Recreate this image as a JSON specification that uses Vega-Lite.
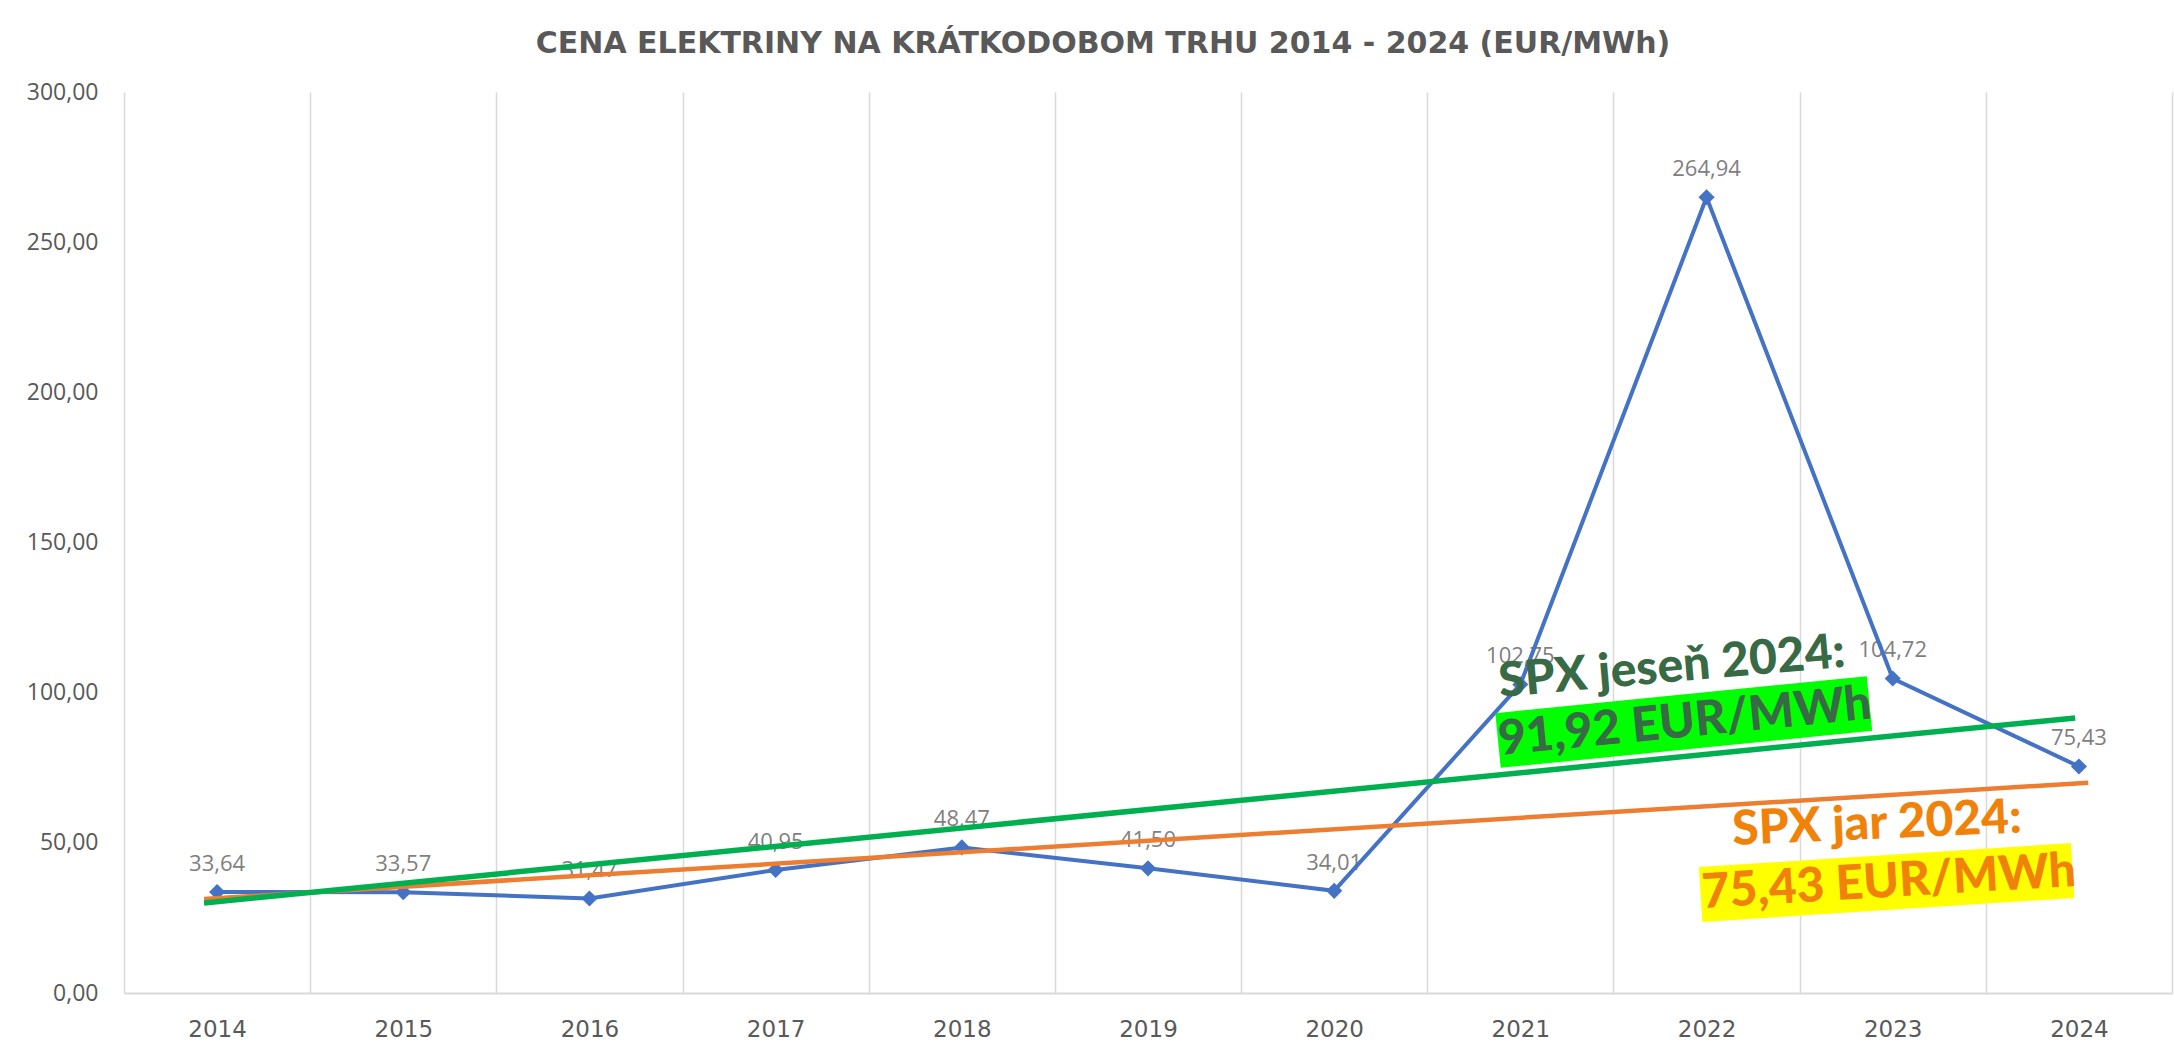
{
  "$schema": "https://vega.github.io/schema/vega-lite/v6.json",
  "width": 2048,
  "height": 901,
  "autosize": "none",
  "padding": {"left": 124, "top": 92, "right": 2, "bottom": 60},
  "background": "white",
  "config": {
    "view": {"stroke": null},
    "locale": {"number": {"decimal": ",", "thousands": " ", "grouping": [3], "currency": ["", " €"]}}
  },
  "title": {
    "text": "CENA ELEKTRINY NA KRÁTKODOBOM TRHU 2014 - 2024 (EUR/MWh)",
    "font": "DejaVu Sans",
    "fontSize": 30,
    "fontWeight": "bold",
    "color": "#595959",
    "anchor": "middle",
    "dx": -45,
    "offset": 22
  },
  "datasets": {
    "prices": [
      {"year": "2014", "price": 33.64},
      {"year": "2015", "price": 33.57},
      {"year": "2016", "price": 31.47},
      {"year": "2017", "price": 40.95},
      {"year": "2018", "price": 48.47},
      {"year": "2019", "price": 41.50},
      {"year": "2020", "price": 34.01},
      {"year": "2021", "price": 102.75},
      {"year": "2022", "price": 264.94},
      {"year": "2023", "price": 104.72},
      {"year": "2024", "price": 75.43}
    ],
    "trends": [
      {"series": "jeseň", "x": 2013.93, "y": 30.0},
      {"series": "jeseň", "x": 2023.98, "y": 91.6},
      {"series": "jar", "x": 2013.93, "y": 31.3},
      {"series": "jar", "x": 2024.05, "y": 70.0}
    ],
    "boxes": [
      {"series": "jeseň", "x": 2020.88, "y": 84.07},
      {"series": "jeseň", "x": 2022.875, "y": 96.39},
      {"series": "jar", "x": 2021.968, "y": 32.8},
      {"series": "jar", "x": 2023.966, "y": 40.79}
    ],
    "notes": [
      {"key": "jesen_head", "x": 2020.89, "y": 98.56, "label": "SPX jeseň 2024:"},
      {"key": "jesen_val", "x": 2020.89, "y": 79.25, "label": "91,92 EUR/MWh"},
      {"key": "jar_head", "x": 2022.142, "y": 49.28, "label": "SPX jar 2024:"},
      {"key": "jar_val", "x": 2021.98, "y": 28.3, "label": "75,43 EUR/MWh"}
    ]
  },
  "layer": [
    {
      "data": {"name": "prices"},
      "encoding": {
        "x": {
          "field": "year",
          "type": "ordinal",
          "bandPosition": 0.5,
          "scale": {"type": "band", "paddingInner": 0, "paddingOuter": 0},
          "axis": {
            "title": null,
            "labelAngle": 0,
            "tickBand": "extent",
            "grid": true,
            "gridColor": "#d9d9d9",
            "gridWidth": 1.5,
            "ticks": false,
            "domain": true,
            "domainColor": "#d9d9d9",
            "domainWidth": 2,
            "labelFont": "DejaVu Sans",
            "labelFontSize": 23,
            "labelColor": "#595959",
            "labelPadding": 25
          }
        },
        "y": {
          "field": "price",
          "type": "quantitative",
          "scale": {"domain": [0, 300], "nice": false},
          "axis": {
            "title": null,
            "values": [0, 50, 100, 150, 200, 250, 300],
            "format": ".2f",
            "grid": false,
            "domain": false,
            "ticks": false,
            "labelFont": "Open Sans",
            "labelFontSize": 23,
            "labelColor": "#595959",
            "labelPadding": 26
          }
        }
      },
      "layer": [
        {
          "mark": {"type": "text", "font": "Open Sans", "fontSize": 22, "color": "#7f7f7f", "baseline": "middle", "dy": -28},
          "encoding": {"text": {"field": "price", "type": "quantitative", "format": ".2f"}}
        },
        {"mark": {"type": "line", "color": "#4472c4", "strokeWidth": 4}},
        {"mark": {"type": "point", "shape": "diamond", "filled": true, "size": 260, "color": "#4472c4", "opacity": 1}}
      ]
    },
    {
      "encoding": {
        "x": {"field": "x", "type": "quantitative", "scale": {"domain": [2013.5, 2024.5], "nice": false, "zero": false}, "axis": null},
        "y": {"field": "y", "type": "quantitative", "scale": {"domain": [0, 300], "nice": false}, "axis": null}
      },
      "layer": [
        {"data": {"name": "trends"}, "transform": [{"filter": "datum.series === 'jar'"}], "mark": {"type": "line", "color": "#ed7d31", "strokeWidth": 4.5}},
        {"data": {"name": "trends"}, "transform": [{"filter": "datum.series === 'jeseň'"}], "mark": {"type": "line", "color": "#00b050", "strokeWidth": 5.5}},
        {"data": {"name": "boxes"}, "transform": [{"filter": "datum.series === 'jeseň'"}], "mark": {"type": "line", "color": "#00ff00", "strokeWidth": 55, "strokeCap": "butt"}},
        {"data": {"name": "boxes"}, "transform": [{"filter": "datum.series === 'jar'"}], "mark": {"type": "line", "color": "#ffff00", "strokeWidth": 55, "strokeCap": "butt"}},
        {"data": {"name": "notes"}, "transform": [{"filter": "datum.key === 'jesen_head'"}], "mark": {"type": "text", "font": "Lato", "fontWeight": 900, "fontSize": 48, "color": "#386a46", "align": "left", "baseline": "alphabetic", "angle": -5}, "encoding": {"text": {"field": "label"}}},
        {"data": {"name": "notes"}, "transform": [{"filter": "datum.key === 'jesen_val'"}], "mark": {"type": "text", "font": "Lato", "fontWeight": 900, "fontSize": 48, "color": "#386a46", "align": "left", "baseline": "alphabetic", "angle": -5.6}, "encoding": {"text": {"field": "label"}}},
        {"data": {"name": "notes"}, "transform": [{"filter": "datum.key === 'jar_head'"}], "mark": {"type": "text", "font": "Lato", "fontWeight": 900, "fontSize": 48, "color": "#f0820a", "align": "left", "baseline": "alphabetic", "angle": -2.5}, "encoding": {"text": {"field": "label"}}},
        {"data": {"name": "notes"}, "transform": [{"filter": "datum.key === 'jar_val'"}], "mark": {"type": "text", "font": "Lato", "fontWeight": 900, "fontSize": 48, "color": "#f0820a", "align": "left", "baseline": "alphabetic", "angle": -3.4}, "encoding": {"text": {"field": "label"}}}
      ]
    }
  ],
  "resolve": {"scale": {"x": "independent"}, "axis": {"y": "independent"}}
}
